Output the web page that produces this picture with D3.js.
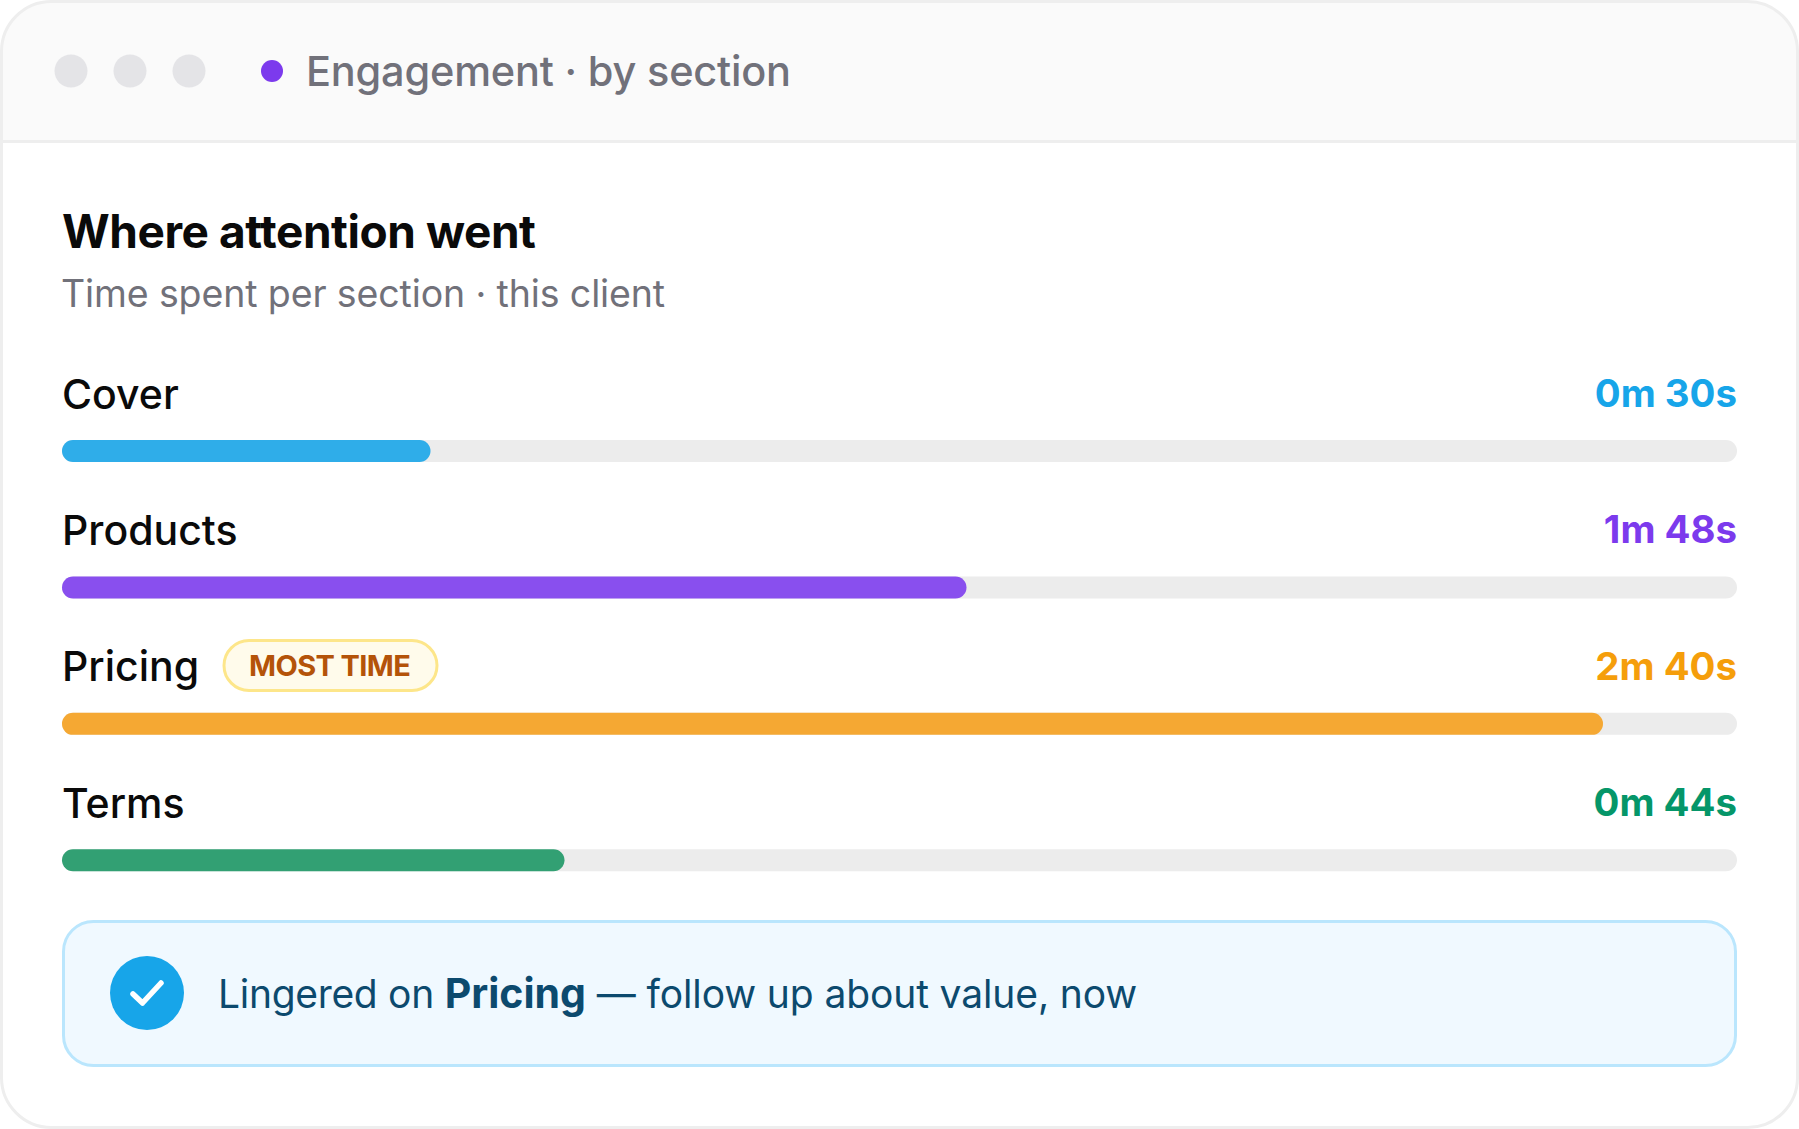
<!DOCTYPE html>
<html><head><meta charset="utf-8">
<script src="https://cdn.jsdelivr.net/npm/d3@7"></script>
<style>html,body{margin:0;padding:0;background:#fff}svg{display:block}text{font-family:Inter,sans-serif;font-kerning:normal}</style>
</head><body><div id="c"></div>
<script>
const sections=["Cover","Products","Pricing","Terms"];
const timeLabels=["0m 30s","1m 48s","2m 40s","0m 44s"];
const fillPercent=[22,54,92,30];
const barColors=["#2fade9","#894fee","#f5a833","#32a073"];
const valueColors=["#17a5e9","#7c3aed","#f59e0b","#059669"];
const W=1799,H=1129;
const svg=d3.select("#c").append("svg").attr("width",W).attr("height",H);
const x=d3.scaleLinear().domain([0,100]).range([62,1737]);
const y=d3.scalePoint().domain(sections).range([440,849.3]);
const barH=22;
// card
svg.append("rect").attr("x",1.5).attr("y",1.5).attr("width",W-3).attr("height",H-3).attr("rx",50).attr("fill","#fff");
svg.append("path").attr("d",`M1.5 141V51.5A50 50 0 0 1 51.5 1.5H${W-51.5}A50 50 0 0 1 ${W-1.5} 51.5V141Z`).attr("fill","#fafafa");
svg.append("line").attr("x1",1.5).attr("x2",W-1.5).attr("y1",141.5).attr("y2",141.5).attr("stroke","#eeeeee").attr("stroke-width",3);
svg.append("rect").attr("x",1.5).attr("y",1.5).attr("width",W-3).attr("height",H-3).attr("rx",50).attr("fill","none").attr("stroke","#eeeeee").attr("stroke-width",3);
svg.selectAll("circle.dot").data([71,130,189]).join("circle").attr("class","dot").attr("cx",d=>d).attr("cy",71).attr("r",16.5).attr("fill","#e4e4e7");
svg.append("circle").attr("cx",272).attr("cy",71).attr("r",11).attr("fill","#7c3aed");
const T=(s,xx,yy,size,weight,color,ls)=>svg.append("text").attr("x",xx).attr("y",yy).attr("font-size",size).attr("font-weight",weight).attr("fill",color).attr("letter-spacing",ls||0).text(s);
T("Engagement · by section",306,86,41.5,500,"#71717a",-0.2);
T("Where attention went",62,248,46,700,"#0a0a0a",-0.45);
T("Time spent per section · this client",61,307,37.5,400,"#71717a",-0.12);
const rows=svg.selectAll("g.row").data(sections).join("g").attr("class","row");
rows.append("rect").attr("x",x(0)).attr("y",d=>y(d)).attr("width",x(100)-x(0)).attr("height",barH).attr("rx",11).attr("fill","#ececec");
rows.append("rect").attr("x",x(0)).attr("y",d=>y(d)).attr("width",(d,i)=>x(fillPercent[i])-x(0)).attr("height",barH).attr("rx",11).attr("fill",(d,i)=>barColors[i]);
rows.append("text").attr("x",62).attr("y",d=>y(d)-31.5).attr("font-size",41).attr("font-weight",500).attr("fill","#0a0a0a").text(d=>d);
rows.append("text").attr("x",1737).attr("y",d=>y(d)-33).attr("text-anchor","end").attr("font-size",38.4).attr("font-weight",700).attr("fill",(d,i)=>valueColors[i]).text((d,i)=>timeLabels[i]);
// badge
svg.append("rect").attr("x",224).attr("y",640.5).attr("width",213).attr("height",50).attr("rx",25).attr("fill","#fffbeb").attr("stroke","#fde68a").attr("stroke-width",3);
T("MOST TIME",249,676,29,700,"#b45309",-0.6);
// callout
svg.append("rect").attr("x",63.5).attr("y",921.5).attr("width",1672).attr("height",144).attr("rx",30).attr("fill","#f0f9ff").attr("stroke","#bae6fd").attr("stroke-width",3);
svg.append("circle").attr("cx",147).attr("cy",993).attr("r",37).attr("fill","#17a5e9");
svg.append("path").attr("d","M133 994L142.5 1003L161 983").attr("fill","none").attr("stroke","#fff").attr("stroke-width",5.5).attr("stroke-linecap","round").attr("stroke-linejoin","round");
const c=svg.append("text").attr("x",218).attr("y",1008).attr("font-size",39).attr("fill","#0c4a6e");
c.append("tspan").attr("letter-spacing",-0.3).text("Lingered on ");
c.append("tspan").attr("font-weight",700).attr("font-size",41).text("Pricing");
c.append("tspan").attr("letter-spacing",-0.12).text(" — follow up about value, now");
</script></body></html>
